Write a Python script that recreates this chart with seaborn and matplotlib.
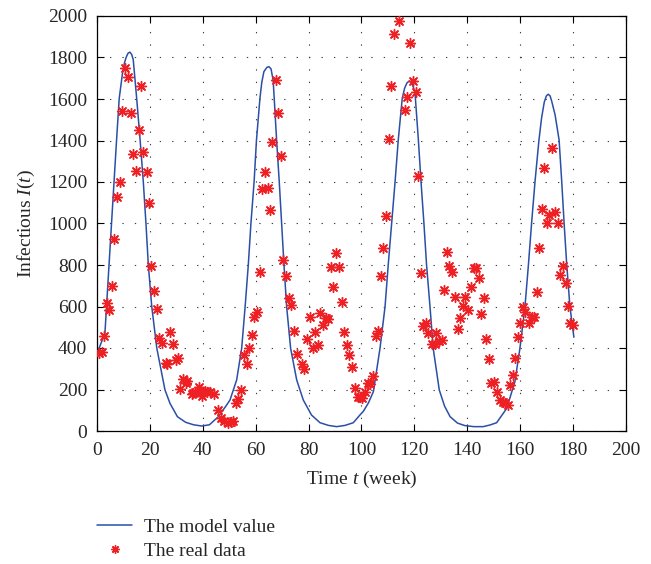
import numpy as np
import pandas as pd
import matplotlib
matplotlib.use("Agg")
import matplotlib.pyplot as plt
from matplotlib.lines import Line2D
import seaborn as sns

# ---------------- data ----------------
# real data: week, infectious count
data_week = [0.9, 1.8, 2.6, 3.7, 4.7, 5.7, 6.6, 7.7, 8.7, 9.6, 10.6, 11.8, 12.7, 13.7, 14.7,
             15.8, 16.6, 17.5, 18.8, 19.7, 20.4, 21.6, 22.6, 23.6, 24.6, 26.0, 26.6, 27.6, 28.6,
             29.9, 30.5, 31.5, 32.6, 33.5, 34.1, 35.8, 36.4, 37.2, 38.5, 38.9, 39.6, 40.7, 41.5,
             42.6, 44.1, 45.6, 46.9, 48.2, 49.4, 50.5, 51.5, 52.4, 53.4, 54.5, 55.6, 56.6, 57.6,
             58.6, 59.5, 60.6, 61.5, 62.4, 63.4, 64.5, 65.5, 66.3, 67.6, 68.4, 69.4, 70.4, 71.6,
             72.6, 73.3, 74.5, 75.7, 77.4, 78.3, 79.5, 80.5, 81.5, 82.5, 83.4, 84.3, 85.6, 86.6,
             87.4, 88.5, 89.3, 90.4, 91.5, 92.5, 93.4, 94.4, 95.4, 96.4, 97.4, 98.5, 99.4, 100.1,
             101.4, 102.6, 103.4, 104.5, 105.5, 106.4, 107.4, 108.2, 109.3, 110.3, 111.3, 112.3,
             114.3, 116.4, 117.3, 118.3, 119.4, 120.5, 121.5, 122.4, 123.4, 124.2, 125.3, 126.5,
             127.8, 128.2, 129.3, 130.3, 131.3, 132.3, 133.2, 134.3, 135.3, 136.3, 137.2, 138.3,
             139.2, 140.2, 141.3, 142.5, 143.3, 144.4, 145.2, 146.3, 147.0, 148.2, 149.1, 150.0,
             151.2, 152.4, 153.5, 154.3, 155.4, 156.1, 157.3, 158.0, 159.2, 160.0, 161.0, 161.8,
             163.3, 164.4, 165.2, 166.2, 167.2, 168.2, 169.0, 170.0, 171.0, 172.0, 173.0, 174.2,
             175.0, 176.0, 177.2, 178.0, 178.8, 180.0]
data_cases = [374, 382, 458, 618, 583, 699, 925, 1126, 1202, 1542, 1748, 1708, 1531, 1333, 1253,
              1451, 1664, 1346, 1250, 1097, 797, 675, 587, 447, 423, 326, 323, 479, 419,
              342, 353, 204, 252, 230, 242, 180, 182, 190, 214, 190, 170, 192, 186,
              188, 176, 99, 65, 48, 40, 45, 49, 136, 153, 200, 366, 321, 402,
              463, 551, 575, 768, 1168, 1250, 1169, 1065, 1391, 1692, 1534, 1327, 824, 747,
              640, 607, 482, 371, 321, 297, 442, 551, 398, 479, 415, 567, 511, 543,
              538, 789, 693, 857, 789, 620, 479, 415, 366, 310, 206, 162, 165, 160,
              189, 232, 226, 265, 458, 482, 747, 881, 1036, 1406, 1663, 1912,
              1976, 1547, 1611, 1871, 1687, 1635, 1231, 760, 506, 522, 471, 418,
              419, 471, 435, 440, 680, 864, 797, 768, 647, 492, 543, 604,
              647, 582, 695, 784, 784, 736, 565, 640, 442, 347, 231, 236,
              188, 149, 140, 135, 125, 222, 270, 352, 453, 520, 598, 574,
              520, 550, 550, 670, 880, 1070, 1268, 1003, 1040, 1365, 1057, 1003,
              752, 795, 713, 602, 520, 510]

# model curve: points
model_week = [0.1, 3.0, 5.5, 7.4, 8.4, 9.6, 10.4, 11.0, 11.7, 12.4, 13.1, 13.7, 15.0, 16.3,
              17.5, 18.5, 19.4, 20.7, 22.6, 25.7, 27.6, 30.4, 33.5, 36.5, 39.6, 42.5, 45.9,
              49.0, 50.3, 52.8, 54.7, 56.0, 57.2, 58.2, 59.4, 60.3, 61.6, 62.3, 63.1, 64.2,
              65.0, 65.8, 66.6, 67.0, 67.9, 68.9, 69.8, 70.7, 71.7, 73.2, 75.5, 78.0, 81.1,
              84.3, 87.5, 90.6, 93.8, 96.9, 99.4, 100.7, 102.6, 104.5, 107.0, 108.9, 110.1,
              111.4, 112.7, 113.9, 115.4, 116.3, 117.2, 118.1, 119.0, 120.2, 121.5, 122.5,
              123.6, 124.6, 125.9, 127.1, 129.4, 131.4, 133.5, 136.3, 139.1, 142.5, 146.0,
              148.6, 151.1, 154.9, 158.0, 159.9, 161.8, 163.1, 164.3, 165.6, 167.1, 168.1,
              169.1, 169.9, 170.6, 171.3, 171.9, 173.2, 174.7, 175.7, 176.6, 177.6, 178.8,
              180.3]
model_cases = [376, 472, 1002, 1403, 1603, 1720, 1775, 1800, 1820, 1826, 1815, 1790, 1603, 1403,
               1202, 1002, 802, 600, 400, 198, 133, 69, 42, 30, 24, 30, 69,
               125, 150, 246, 399, 599, 800, 1001, 1202, 1403, 1603, 1680, 1732, 1752,
               1756, 1745, 1690, 1603, 1403, 1202, 1001, 800, 599, 399, 246, 149, 77,
               40, 27, 21, 27, 40, 77, 95, 135, 190, 399, 599, 800,
               1001, 1202, 1403, 1603, 1652, 1678, 1687, 1678, 1635, 1403, 1202,
               1001, 800, 599, 399, 198, 120, 69, 38, 26, 21, 21,
               29, 40, 109, 238, 399, 599, 800, 1001, 1202, 1403, 1510,
               1585, 1615, 1623, 1615, 1590, 1523, 1403, 1202, 1001, 800, 599,
               452]

x_ticks = list(range(0, 201, 20))
y_ticks = list(range(0, 2001, 200))

# ---------------- style ----------------
sns.set_style("white")
plt.rcParams["font.family"] = ["Liberation Serif", "DejaVu Serif"]
plt.rcParams["mathtext.fontset"] = "custom"
plt.rcParams["mathtext.rm"] = "Liberation Serif"
plt.rcParams["mathtext.it"] = "Liberation Serif:italic"

BLUE = "#2a4fa6"
RED = "#ee2024"
FS = 14

fig = plt.figure(figsize=(6.51, 5.64), dpi=100)
ax = fig.add_axes([97 / 651, 1 - 431 / 564, 529 / 651, 415 / 564])

model_df = pd.DataFrame({"week": model_week, "cases": model_cases})
data_df = pd.DataFrame({"week": data_week, "cases": data_cases})

sns.lineplot(data=model_df, x="week", y="cases", ax=ax, color=BLUE, lw=1.1,
             sort=False, estimator=None, zorder=2)
sns.scatterplot(data=data_df, x="week", y="cases", ax=ax, marker=(8, 2, 0), s=50,
                color=RED, edgecolor=RED, linewidth=1.05, zorder=3, clip_on=True)

ax.set_xlim(0, 200)
ax.set_ylim(0, 2000)
ax.set_xticks(x_ticks)
ax.set_yticks(y_ticks)
ax.set_xticklabels([str(v) for v in x_ticks], fontsize=FS)
ax.set_yticklabels([str(v) for v in y_ticks], fontsize=FS)
ax.tick_params(direction="in", length=5, width=0.8, color="black",
               top=True, right=True, bottom=True, left=True)
ax.tick_params(axis="x", pad=8)
ax.tick_params(axis="y", pad=7)

ax.grid(True, color="0.25", linestyle=(0, (1.2, 10)), linewidth=0.8)
ax.set_axisbelow(True)
for sp in ax.spines.values():
    sp.set_visible(True)
    sp.set_color("black")
    sp.set_linewidth(0.9)

ax.set_xlabel(r"Time $t$ (week)", fontsize=FS)
ax.set_ylabel(r"Infectious $I(t)$", fontsize=FS)
ax.xaxis.set_label_coords(0.5, -0.092)
ax.yaxis.set_label_coords(-0.113, 0.5)

handles = [Line2D([], [], color=BLUE, lw=1.1),
           Line2D([], [], ls="", marker=(8, 2, 0), color=RED, markersize=6, mew=1.0)]
fig.legend(handles, ["The model value", "The real data"], loc="upper left",
           bbox_to_anchor=(97 / 651, 1 - 518 / 564), frameon=False, fontsize=FS,
           handlelength=1.8, handletextpad=0.6, labelspacing=0.35,
           borderpad=0, borderaxespad=0)

fig.savefig("out.png", dpi=100)
